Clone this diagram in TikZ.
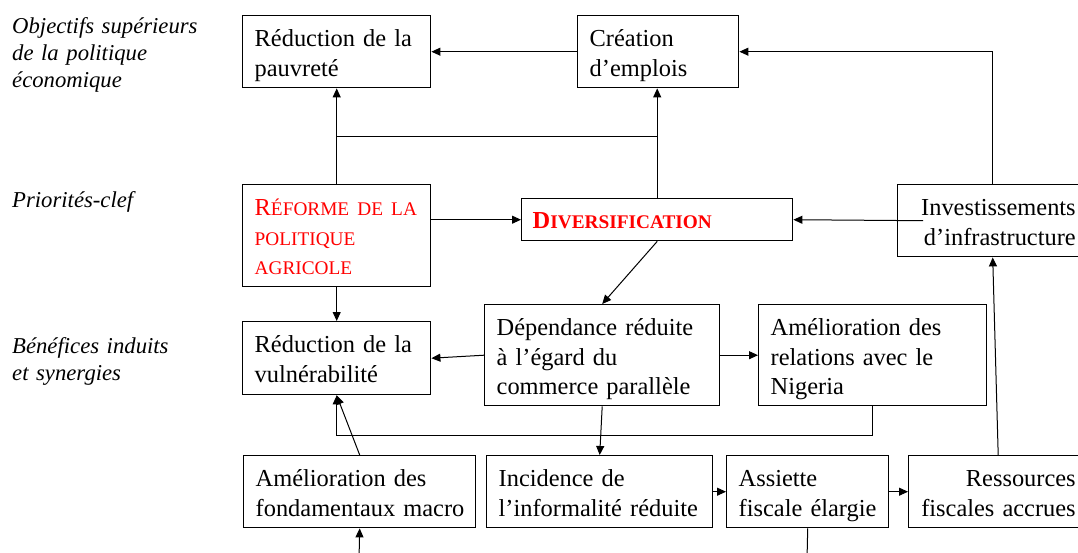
\documentclass[tikz,border=0pt]{standalone}
\usepackage{fontspec}
\setmainfont{Liberation Serif}
\usetikzlibrary{arrows.meta}
\definecolor{rouge}{RGB}{255,0,0}
\newcommand{\bigfont}{\fontsize{24.4}{29.5}\selectfont}
\newcommand{\scf}{\fontsize{19.3}{29.5}\selectfont}
\newcommand{\lblfont}{\fontsize{22.7}{27}\selectfont\itshape}
\begin{document}
\begin{tikzpicture}[x=1pt,y=-1pt,
  box/.style={draw=black, line width=1.4pt, anchor=north west, inner xsep=12pt, inner ysep=0pt, align=left, font=\bigfont, text height=31pt, text depth=41pt},
  rbox/.style={box, align=right},
  lbl/.style={anchor=base west, inner sep=0pt, align=left, text width=220pt, font=\lblfont},
  conn/.style={line width=1pt, draw=black},
  arr/.style={conn, -{Triangle[length=9pt,width=8pt]}}]
\useasboundingbox (0,0) rectangle (1078,552);
\fill[white] (0,0) rectangle (1078,552);
\clip (0,0) rectangle (1078,552);

% labels
\node[lbl] (l1) at (12,33) {Objectifs supérieurs\\de la politique\\économique};
\node[lbl] (l2) at (12,207) {Priorités-clef};
\node[lbl] (l3) at (12,353) {Bénéfices induits\\et synergies};

% boxes
\node[box, text width=164pt] (pauv) at (242,15) {\mbox{Réduction de la}\\pauvreté};
\node[box, text width=137pt] (crea) at (577,15) {Création\\d’emplois};
\node[box, text width=164pt, text depth=71pt, text=rouge] (refo) at (242,184) {\mbox{R{\scf ÉFORME DE LA}}\\{\scf POLITIQUE}\\{\scf AGRICOLE}};
\node[box, text width=249pt, text height=30pt, text depth=12pt, text=rouge, inner xsep=11pt] (div) at (521,198) {\textbf{D{\scf IVERSIFICATION}}};
\node[rbox, text width=166pt] (inv) at (897,184) {Investissements\\d’infrastructure};
\node[box, text width=164pt, text depth=42pt] (vul) at (242,321) {\mbox{Réduction de la}\\vulnérabilité};
\node[box, text width=211pt, text depth=70pt] (dep) at (484,304) {\mbox{Dépendance réduite}\\\mbox{à l’égard du}\\\mbox{commerce parallèle}};
\node[box, text width=204pt, text depth=70pt] (nig) at (758,304) {\mbox{Amélioration des}\\\mbox{relations avec le}\\Nigeria};
\node[box, text width=208pt] (macro) at (243,455) {\mbox{Amélioration des}\\\mbox{fondamentaux macro}};
\node[box, text width=202pt] (inc) at (486,455) {\mbox{Incidence de}\\\mbox{l’informalité réduite}};
\node[box, text width=138pt] (ass) at (726,455) {Assiette\\\mbox{fiscale élargie}};
\node[rbox, text width=155pt] (res) at (908,455) {Ressources\\\mbox{fiscales accrues}};

% helper coordinates
\coordinate (hy) at (0,136);
\coordinate (hy2) at (0,435);
\coordinate (bot1) at (359,560);
\coordinate (bot2) at (807,560);

% connectors
\draw[arr] (crea.west) -- (pauv.east);
\draw[arr] (refo.north) -- (pauv.south);
\draw[conn] (refo.north |- hy) -- (div.north |- hy);
\draw[arr] (div.north) -- (div.north |- crea.south);
\draw[arr] (inv.north) |- (crea.east);
\draw[arr] (refo.east |- div.west) -- (div.west);
\draw[arr] ([xshift=26pt]inv.west) -- (div.east);
\draw[arr] (div.south) -- (dep.north);
\draw[arr] (refo.south) -- (vul.north);
\draw[arr] (dep.west) -- (vul.east);
\draw[arr] (dep.east) -- (nig.west);
\draw[arr] (dep.south) -- (inc.north);
\draw[arr] (macro.north) -- (vul.south);
\draw[arr] (nig.south) -- (nig.south |- hy2) -- (vul.south |- hy2) -- (vul.south);
\draw[arr] (inc.east) -- (ass.west);
\draw[arr] (ass.east) -- (res.west);
\draw[arr] (res.north) -- (inv.south);
\draw[arr] (bot1) -- (macro.south);
\draw[conn] (ass.south) -- (bot2);
\end{tikzpicture}
\end{document}
